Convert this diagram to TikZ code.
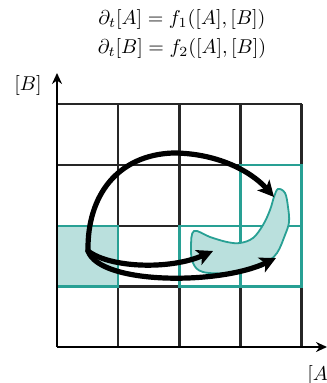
\documentclass[tikz,border=0pt]{standalone}
\usetikzlibrary{arrows.meta}
\definecolor{tealline}{RGB}{40,160,148}
\definecolor{tealfill}{RGB}{186,224,221}
\begin{document}
\begin{tikzpicture}[x=0.5pt,y=-0.5pt,
  gridline/.style={draw=black!85, line width=1.1pt},
  cellteal/.style={draw=tealline, line width=1.1pt},
  flow/.style={line width=2.6pt, line cap=round, -{Stealth[length=8pt,width=8pt,inset=2pt]}},
  axis/.style={line width=1.1pt, -{Stealth[length=5.5pt,width=5pt]}},
  lbl/.style={inner sep=0pt}]
\useasboundingbox (0,0) rectangle (326,383);
% filled cell
\fill[tealfill] (57,226) rectangle (118,286.5);
% black grid
\foreach \x in {118,179.5,240.5,301.5} \draw[gridline] (\x,104) -- (\x,347);
\foreach \y in {104,165,226,286.5} \draw[gridline] (57,\y) -- (301.5,\y);
% teal cells
\draw[cellteal] (57,226) rectangle (118,286.5);
\draw[cellteal] (179.5,226) rectangle (301.5,286.5);
\draw[cellteal] (240.5,226) -- (240.5,286.5);
\draw[cellteal] (240.5,165) rectangle (301.5,226);
% blob
\draw[tealline, fill=tealfill, line width=0.9pt] plot[smooth cycle, tension=0.6] coordinates {
 (194,231) (210,237) (227,242) (240,243) (253,238) (263,225) (270,210) (274,197)
 (278,189) (285,193) (288,207) (289,222) (285,235) (277,253) (265,264) (257,268)
 (230,273) (203,272) (193,263) (191,247)};
% axes
\coordinate (o) at (57,347);
\coordinate (xend) at (327,347);
\coordinate (yend) at (57,73);
\draw[axis] (o) -- (xend);
\draw[axis] (o) -- (yend);
\node[lbl] (lb) at (28,86) {$[B]$};
\node[lbl, anchor=west] (la) at (307,375) {$[A]$};
% equations
\node (eq1) at (182,20) {$\partial_t[A] = f_1([A],[B])$};
\node (eq2) at (182,49) {$\partial_t[B] = f_2([A],[B])$};
% flows
\coordinate (s) at (88,251);
\coordinate (top) at (173,153);
\coordinate (t1) at (274,197);
\coordinate (t2) at (213,251);
\coordinate (t3) at (276,258);
\draw[flow] (s) .. controls (87,195) and (118,155) .. (top) .. controls (215,153) and (250,170) .. (t1);
\draw[flow] (s) .. controls (110,268) and (170,270) .. (t2);
\draw[flow] (s) .. controls (100,285) and (220,285) .. (t3);
\end{tikzpicture}
\end{document}
